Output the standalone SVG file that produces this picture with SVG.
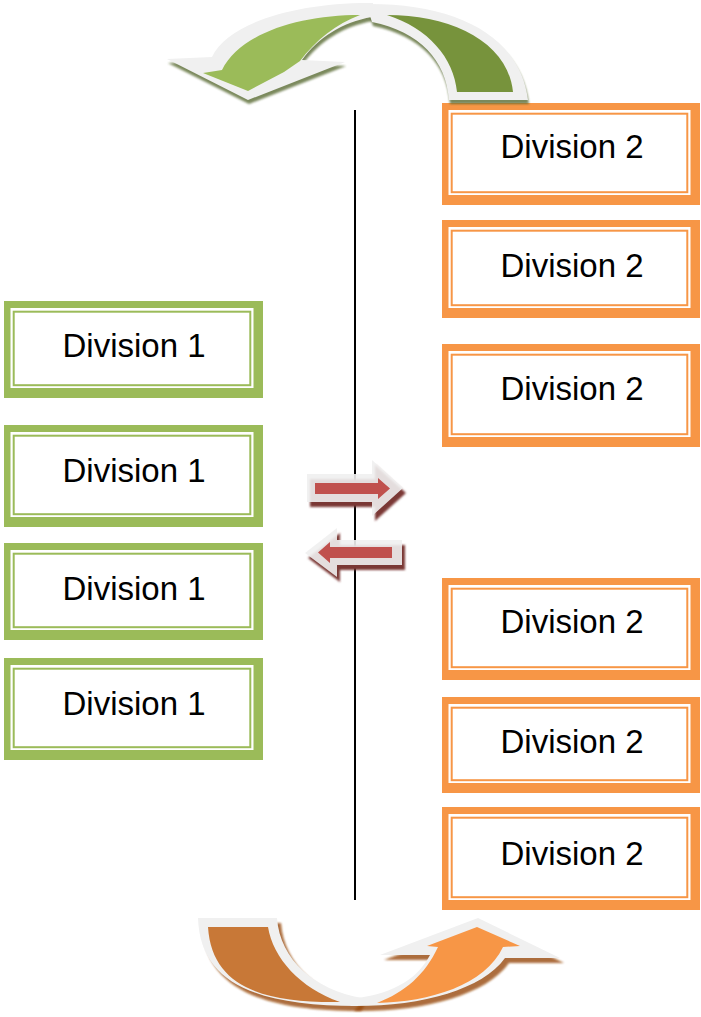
<svg xmlns="http://www.w3.org/2000/svg" width="701" height="1017" viewBox="0 0 701 1017">
<defs>
<filter id="soft" x="-10%" y="-10%" width="120%" height="120%"><feGaussianBlur stdDeviation="0.8"/></filter>
</defs>
<style>
.bg{fill:#ffffff}
.g-out{fill:#9bbb59}
.o-out{fill:#f79646}
.gap{fill:#ffffff}
.g-in{fill:#ffffff;stroke:#9bbb59;stroke-width:2}
.o-in{fill:#ffffff;stroke:#f79646;stroke-width:2}
.lbl{font-family:"Liberation Sans",Arial,sans-serif;font-size:33px;fill:#000000;text-anchor:middle}
.rim{fill:#f0f0f0}
.sh-g{fill:#4f6228;opacity:0.75;filter:url(#soft)}
.sh-o{fill:#984807;opacity:0.8;filter:url(#soft)}
.sh-r{fill:#7a3836;filter:url(#soft)}
.red{fill:#c0504d}
</style>
<rect class="bg" x="0" y="0" width="701" height="1017"/>

<g id="div1-a"><rect class="g-out" x="4" y="301" width="259" height="97"/><rect class="gap" x="10.5" y="308" width="243" height="80"/><rect class="g-in" x="13.7" y="311.7" width="236.6" height="73.5"/><text class="lbl" x="134" y="357">Division 1</text></g>
<g id="div1-b"><rect class="g-out" x="4" y="425" width="259" height="102"/><rect class="gap" x="10.5" y="432" width="243" height="85"/><rect class="g-in" x="13.7" y="435.7" width="236.6" height="78.5"/><text class="lbl" x="134" y="482">Division 1</text></g>
<g id="div1-c"><rect class="g-out" x="4" y="543" width="259" height="97"/><rect class="gap" x="10.5" y="550" width="243" height="80"/><rect class="g-in" x="13.7" y="553.7" width="236.6" height="73.5"/><text class="lbl" x="134" y="600">Division 1</text></g>
<g id="div1-d"><rect class="g-out" x="4" y="658" width="259" height="102"/><rect class="gap" x="10.5" y="665" width="243" height="85"/><rect class="g-in" x="13.7" y="668.7" width="236.6" height="78.5"/><text class="lbl" x="134" y="715">Division 1</text></g>

<g id="div2-a"><rect class="o-out" x="442" y="103" width="258" height="102"/><rect class="gap" x="448.5" y="110" width="242" height="85"/><rect class="o-in" x="451.7" y="113.7" width="235.6" height="78.5"/><text class="lbl" x="572" y="158">Division 2</text></g>
<g id="div2-b"><rect class="o-out" x="442" y="220" width="258" height="98"/><rect class="gap" x="448.5" y="227" width="242" height="81"/><rect class="o-in" x="451.7" y="230.7" width="235.6" height="74.5"/><text class="lbl" x="572" y="277">Division 2</text></g>
<g id="div2-c"><rect class="o-out" x="442" y="344" width="258" height="103"/><rect class="gap" x="448.5" y="351" width="242" height="86"/><rect class="o-in" x="451.7" y="354.7" width="235.6" height="79.5"/><text class="lbl" x="572" y="400">Division 2</text></g>
<g id="div2-d"><rect class="o-out" x="442" y="578" width="258" height="102"/><rect class="gap" x="448.5" y="585" width="242" height="85"/><rect class="o-in" x="451.7" y="588.7" width="235.6" height="78.5"/><text class="lbl" x="572" y="633">Division 2</text></g>
<g id="div2-e"><rect class="o-out" x="442" y="697" width="258" height="96"/><rect class="gap" x="448.5" y="704" width="242" height="79"/><rect class="o-in" x="451.7" y="707.7" width="235.6" height="72.5"/><text class="lbl" x="572" y="753">Division 2</text></g>
<g id="div2-f"><rect class="o-out" x="442" y="807" width="258" height="103"/><rect class="gap" x="448.5" y="814" width="242" height="86"/><rect class="o-in" x="451.7" y="817.7" width="235.6" height="79.5"/><text class="lbl" x="572" y="865">Division 2</text></g>

<g id="connectors">
  <line id="divider" x1="355" y1="110" x2="355" y2="900" stroke="#000000" stroke-width="2"/>

  <g id="arrow-top">
    <g transform="translate(1,4)">
      <path class="sh-g" d="M366,4 C455,3 520,35 528,100 L449,100 C446,60 420,32 372,22 Z"/>
      <path class="sh-g" d="M373,3 C300,2 228,22 212,57 L167,59 L248,100 L345,62 L302,60 C318,38 342,22 372,17 Z"/>
    </g>
    <path class="rim" d="M366,4 C455,3 520,35 528,100 L449,100 C446,60 420,32 372,22 Z"/>
    <path fill="#77933c" d="M387,15 C452,15 508,42 513,92 L457,92 C454,58 428,28 387,15 Z"/>
    <path class="rim" d="M373,3 C300,2 228,22 212,57 L167,59 L248,100 L345,62 L302,60 C318,38 342,22 372,17 Z"/>
    <path fill="#9bbb59" d="M360,15 C300,15 240,33 222,70 L203,73 L248,91 L284,72 L300,61 C316,40 336,24 360,15 Z"/>
  </g>

  <g id="arrow-bottom">
    <g transform="translate(4,5)">
      <path class="sh-o" d="M198,918 L277,918 C280,960 315,990 362,998 L357,1006 C260,1006 200,985 198,918 Z"/>
      <path class="sh-o" d="M350,1006 C420,1007 482,990 505,958 L560,958 L478,918 L380,955 L430,955 C418,978 395,993 357,998 Z"/>
    </g>
    <path class="rim" d="M198,918 L277,918 C280,960 315,990 362,998 L357,1006 C260,1006 200,985 198,918 Z"/>
    <path fill="#c87837" d="M208,927 L268,927 C273,958 300,988 340,1002 C265,1003 212,988 208,927 Z"/>
    <path class="rim" d="M350,1006 C420,1007 482,990 505,958 L560,958 L478,918 L380,955 L430,955 C418,978 395,993 357,998 Z"/>
    <path fill="#f79646" d="M377,1003 C430,1002 485,985 503,947 L520,946 L477,927 L427,946 L438,947 C425,975 405,992 377,1003 Z"/>
  </g>

  <g id="arrow-right">
    <path class="sh-r" transform="translate(3,5)" d="M307,474 L372,474 L372,460 L403,488 L372,516 L372,502 L307,502 Z"/>
    <path class="rim" opacity="0.9" d="M307,474 L372,474 L372,460 L403,488 L372,516 L372,502 L307,502 Z"/>
    <path class="red" d="M315,483 L378,483 L378,478 L390,488.5 L378,499 L378,494 L315,494 Z"/>
  </g>
  <g id="arrow-left">
    <path class="sh-r" transform="translate(3,5)" d="M402,540 L337,540 L337,528 L305,553 L337,577 L337,565 L402,565 Z"/>
    <path class="rim" opacity="0.9" d="M402,540 L337,540 L337,528 L305,553 L337,577 L337,565 L402,565 Z"/>
    <path class="red" d="M392,547 L330,547 L330,542 L318,552.5 L330,563 L330,558 L392,558 Z"/>
  </g>
</g>
</svg>
